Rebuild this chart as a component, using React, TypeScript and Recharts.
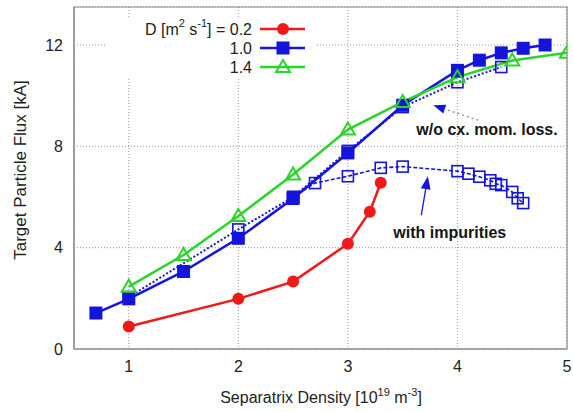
import React from "react";
import {
  LineChart,
  Line,
  XAxis,
  YAxis,
  CartesianGrid,
  ReferenceArea,
  ReferenceLine,
  ReferenceDot,
  Label,
} from "recharts";

// Separatrix density [1e19 m^-3] and target particle flux [kA] per scan.
const densD02 = [1, 2, 2.5, 3, 3.2, 3.3];
const fluxD02 = [0.89, 1.98, 2.66, 4.15, 5.42, 6.56];

const densD10 = [0.7, 1, 1.5, 2, 2.5, 3, 3.5, 4, 4.2, 4.4, 4.6, 4.8];
const fluxD10 = [1.42, 1.98, 3.06, 4.37, 5.94, 7.74, 9.62, 11.0, 11.4, 11.69, 11.87, 12.0];

const densD14 = [1, 1.5, 2, 2.5, 3, 3.5, 4, 4.5, 5];
const fluxD14 = [2.46, 3.71, 5.25, 6.89, 8.66, 9.75, 10.73, 11.39, 11.69];

const densNoCx = [1, 2, 2.5, 3, 3.5, 4, 4.4];
const fluxNoCx = [2.05, 4.72, 6.0, 7.82, 9.55, 10.53, 11.13];

const densImp = [2.5, 2.7, 3, 3.3, 3.5, 4, 4.1, 4.2, 4.3, 4.35, 4.4, 4.5, 4.55, 4.6];
const fluxImp = [6.0, 6.55, 6.82, 7.15, 7.2, 7.02, 6.92, 6.8, 6.66, 6.52, 6.47, 6.2, 5.95, 5.76];

const xTicks = [1, 2, 3, 4, 5];
const yTicks = [0, 4, 8, 12];
const legendLabels = ["0.2", "1.0", "1.4"];

const RED = "#f01818";
const BLUE = "#1414dc";
const GREEN = "#2ad42a";
const FONT = "'Liberation Sans', Arial, sans-serif";

const toPoints = (xs: number[], ys: number[]) => xs.map((x, i) => ({ x, y: ys[i] }));

// marker shapes
const circleDot = (p: any) => (
  <circle key={`c-${p.index}`} cx={p.cx} cy={p.cy} r={6} fill={RED} />
);
const filledSquare = (p: any) => (
  <rect key={`s-${p.index}`} x={p.cx - 6.5} y={p.cy - 6.5} width={13} height={13} fill={BLUE} />
);
const openSquare = (p: any) => (
  <rect
    key={`o-${p.index}`}
    x={p.cx - 5.5}
    y={p.cy - 5.5}
    width={11}
    height={11}
    fill="none"
    stroke={BLUE}
    strokeWidth={1.6}
  />
);
const openTriangle = (p: any) => (
  <polygon
    key={`t-${p.index}`}
    points={`${p.cx},${p.cy - 7} ${p.cx - 7},${p.cy + 5} ${p.cx + 7},${p.cy + 5}`}
    fill="none"
    stroke={GREEN}
    strokeWidth={2}
  />
);

// line with a filled head at the second point
const arrowShape = (lineColor: string, dash: string | undefined, headLen: number) => (p: any) => {
  const { x1, y1, x2, y2 } = p;
  const a = Math.atan2(y2 - y1, x2 - x1);
  const w = headLen * 0.38;
  const bx = x2 - headLen * Math.cos(a);
  const by = y2 - headLen * Math.sin(a);
  const pts = [
    `${x2},${y2}`,
    `${bx + w * Math.sin(a)},${by - w * Math.cos(a)}`,
    `${bx - w * Math.sin(a)},${by + w * Math.cos(a)}`,
  ].join(" ");
  return (
    <g>
      <line x1={x1} y1={y1} x2={bx} y2={by} stroke={lineColor} strokeWidth={1.3} strokeDasharray={dash} />
      <polygon points={pts} fill={BLUE} />
    </g>
  );
};

const noteText = (text: string) => (p: any) => (
  <text
    x={p.cx}
    y={p.cy}
    textAnchor="middle"
    dominantBaseline="central"
    fontFamily={FONT}
    fontWeight="bold"
    fontSize={16}
    fill="#151515"
  >
    {text}
  </text>
);

const XTitle = () => (
  <text x={321} y={403} textAnchor="middle" fontFamily={FONT} fontSize={16} fill="#222">
    Separatrix Density [10
    <tspan dy={-7} fontSize={11}>19</tspan>
    <tspan dy={7}> m</tspan>
    <tspan dy={-7} fontSize={11}>-3</tspan>
    <tspan dy={7}>]</tspan>
  </text>
);

const YTitle = () => (
  <text
    x={26}
    y={170}
    transform="rotate(-90, 26, 170)"
    textAnchor="middle"
    fontFamily={FONT}
    fontSize={17}
    fill="#222"
  >
    Target Particle Flux [kA]
  </text>
);

const legendMarkers = [
  <circle cx={178} cy={11} r={6} fill={RED} />,
  <rect x={171.5} y={23.5} width={13} height={13} fill={BLUE} />,
  <polygon points="178,42 171,54 185,54" fill="none" stroke={GREEN} strokeWidth={2} />,
];
const legendColors = [RED, BLUE, GREEN];

const KeyBox = () => (
  <svg
    width={212}
    height={60}
    style={{ position: "absolute", left: 105, top: 18, background: "#fff" }}
  >
    {legendLabels.map((lab, i) => (
      <g key={lab}>
        <text
          x={147}
          y={11 + i * 19}
          textAnchor="end"
          dominantBaseline="central"
          fontFamily={FONT}
          fontSize={16}
          fill="#222"
        >
          {i === 0 ? (
            <>
              D [m<tspan dy={-6} fontSize={11}>2</tspan>
              <tspan dy={6}> s</tspan>
              <tspan dy={-6} fontSize={11}>-1</tspan>
              <tspan dy={6}>] = 0.2</tspan>
            </>
          ) : (
            lab
          )}
        </text>
        <line x1={155} x2={200} y1={11 + i * 19} y2={11 + i * 19} stroke={legendColors[i]} strokeWidth={2.5} />
        {React.cloneElement(legendMarkers[i], { key: "m" })}
      </g>
    ))}
  </svg>
);

export default function App() {
  return (
    <div
      style={{
        position: "absolute",
        left: 0,
        top: 0,
        width: 573,
        height: 412,
        background: "#fff",
        fontFamily: FONT,
      }}
    >
      <LineChart width={573} height={412} margin={{ top: 7, right: 6, bottom: 0, left: 0 }}>
        <CartesianGrid stroke="#9a9a9a" strokeDasharray="1 2" />
        <XAxis
          type="number"
          dataKey="x"
          domain={[0.5, 5]}
          ticks={xTicks}
          allowDataOverflow
          height={63}
          tickLine={false}
          tickSize={6}
          tickMargin={6}
          axisLine={{ stroke: "#8a8a8a" }}
          tick={{ fontSize: 16, fill: "#222" }}
        >
          <Label content={<XTitle />} />
        </XAxis>
        <YAxis
          type="number"
          domain={[0, 13.5]}
          ticks={yTicks}
          allowDataOverflow
          width={74}
          tickLine={false}
          tickSize={6}
          tickMargin={5}
          axisLine={{ stroke: "#8a8a8a" }}
          tick={{ fontSize: 16, fill: "#222" }}
        >
          <Label content={<YTitle />} />
        </YAxis>
        <ReferenceArea x1={0.5} x2={5} y1={0} y2={13.5} fill="none" stroke="#8a8a8a" strokeWidth={1.2} />

        <Line
          data={toPoints(densNoCx, fluxNoCx)}
          dataKey="y"
          stroke={BLUE}
          strokeWidth={2}
          strokeDasharray="2 2"
          dot={openSquare}
          isAnimationActive={false}
        />
        <Line
          data={toPoints(densImp, fluxImp)}
          dataKey="y"
          stroke={BLUE}
          strokeWidth={1.6}
          strokeDasharray="4 2"
          dot={openSquare}
          isAnimationActive={false}
        />
        <Line
          data={toPoints(densD02, fluxD02)}
          dataKey="y"
          stroke={RED}
          strokeWidth={2.5}
          dot={circleDot}
          isAnimationActive={false}
        />
        <Line
          data={toPoints(densD10, fluxD10)}
          dataKey="y"
          stroke={BLUE}
          strokeWidth={2.5}
          dot={filledSquare}
          isAnimationActive={false}
        />
        <Line
          data={toPoints(densD14, fluxD14)}
          dataKey="y"
          stroke={GREEN}
          strokeWidth={2.5}
          dot={openTriangle}
          isAnimationActive={false}
        />

        <ReferenceLine
          segment={[{ x: 4.19, y: 9.03 }, { x: 3.78, y: 9.62 }]}
          shape={arrowShape("#8a8a8a", "2 3", 12)}
        />
        <ReferenceLine
          segment={[{ x: 3.67, y: 5.28 }, { x: 3.73, y: 6.82 }]}
          shape={arrowShape(BLUE, undefined, 13)}
        />
        <ReferenceDot x={4.27} y={8.65} r={0} shape={noteText("w/o cx. mom. loss.")} />
        <ReferenceDot x={3.93} y={4.58} r={0} shape={noteText("with impurities")} />
      </LineChart>
      <KeyBox />
    </div>
  );
}
